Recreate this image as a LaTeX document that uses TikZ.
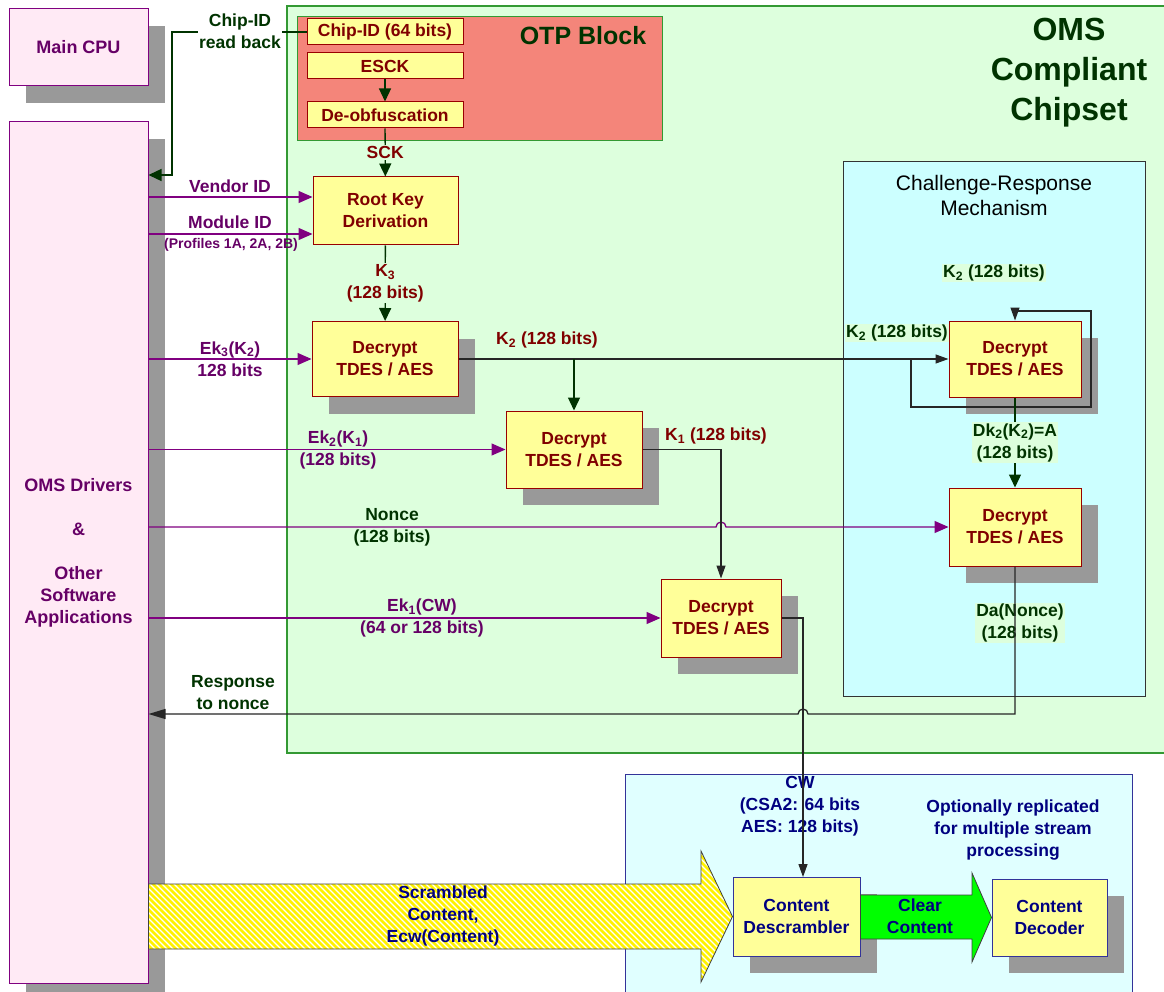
\documentclass[tikz,border=0pt]{standalone}
\usepackage{fontspec}
\setmainfont{Liberation Sans}
\usetikzlibrary{arrows.meta,shadows}

\definecolor{cpupink}{HTML}{FFEAF5}
\definecolor{cpuline}{HTML}{800080}
\definecolor{cputext}{HTML}{660066}
\definecolor{chipgreen}{HTML}{DDFFDD}
\definecolor{chipline}{HTML}{339933}
\definecolor{otpred}{HTML}{F4857A}
\definecolor{keyyellow}{HTML}{FFFF99}
\definecolor{keyline}{HTML}{990000}
\definecolor{keytext}{HTML}{800000}
\definecolor{dkgreen}{HTML}{003300}
\definecolor{crcyan}{HTML}{CCFFFF}
\definecolor{cwcyan}{HTML}{E0FFFF}
\definecolor{navy}{HTML}{000080}
\definecolor{navyline}{HTML}{333399}
\definecolor{shadowgray}{HTML}{999999}
\definecolor{clrgreen}{HTML}{00FF00}

\tikzset{
  txt/.style={font=\bfseries\fontsize{17.5}{22}\selectfont, align=center, inner sep=1pt},
  boxshadow/.style={general shadow={fill=shadowgray, shadow xshift=17pt, shadow yshift=-17pt}},
  cpubox/.style={txt, draw=cpuline, fill=cpupink, text=cputext, line width=1pt},
  keybox/.style={txt, draw=keyline, fill=keyyellow, text=keytext, line width=1pt, inner sep=0pt},
  otpbox/.style={keybox, minimum width=156pt, minimum height=26pt},
  decbox/.style={keybox, boxshadow, minimum height=76pt},
  cwbox/.style={txt, draw=navyline, fill=keyyellow, text=navy, line width=1pt, boxshadow, minimum height=78pt},
  purp/.style={draw=cpuline, line width=1.3pt, -{Triangle[length=14pt,width=12pt]}},
  grn/.style={draw=dkgreen, line width=1.3pt, -{Triangle[length=13pt,width=12pt]}},
  blk/.style={draw=black!85, line width=1.3pt, -{Triangle[length=13pt,width=9pt]}}
}

\begin{document}
\begin{tikzpicture}[x=1pt, y=-1pt]
  \useasboundingbox (0,0) rectangle (1164,992);
  \clip (0,0) rectangle (1164,992);
  \fill[white] (0,0) rectangle (1164,992);

  \draw[chipline, fill=chipgreen, line width=1.2pt] (287,6) rectangle (1200,753);
  \draw[chipline, fill=otpred, line width=1pt] (297,17) rectangle (662,141);
  \draw[black!80, fill=crcyan, line width=1pt] (843,162) rectangle (1145,696);
  \draw[navyline, fill=cwcyan, line width=1pt] (625,774) rectangle (1132,1010);

  \node[txt, text=dkgreen, font=\bfseries\fontsize{25}{30}\selectfont] (otptitle) at (583,36) {OTP Block};
  \node[txt, text=dkgreen, font=\bfseries\fontsize{32}{40}\selectfont] (omstitle) at (1069,73) {OMS\\Compliant\\Chipset};
  \node[txt, font=\fontsize{21}{25}\selectfont] (crtitle) at (994,195) {Challenge-Response\\Mechanism};

  \node[cpubox, boxshadow, minimum width=139pt, minimum height=77pt, font=\bfseries\fontsize{18}{22}\selectfont] (cpu) at (78.5,47.5) {Main CPU};
  \node[cpubox, boxshadow, minimum width=139pt, minimum height=861pt, font=\bfseries\fontsize{18}{22}\selectfont] (drv) at (78.5,552.5)
    {OMS Drivers\\[22pt]\&\\[22pt]Other\\Software\\Applications};

  \node[otpbox] (chipid) at (385,32) {Chip-ID (64 bits)};
  \node[otpbox] (esck) at (385,66) {ESCK};
  \node[otpbox] (deobf) at (385,115) {De-obfuscation};
  \node[keybox, minimum width=145pt, minimum height=68pt] (rkd) at (385.5,211) {Root Key\\Derivation};

  \node[decbox, minimum width=146pt, minimum height=75pt] (dec1) at (385,359) {Decrypt\\TDES / AES};
  \node[decbox, minimum width=136pt, minimum height=77pt] (dec2) at (574,449.5) {Decrypt\\TDES / AES};
  \node[decbox, minimum width=120pt, minimum height=78pt] (dec3) at (721,618) {Decrypt\\TDES / AES};
  \node[decbox, minimum width=132pt] (cr1) at (1015,359) {Decrypt\\TDES / AES};
  \node[decbox, minimum width=132pt, minimum height=78pt] (cr2) at (1015,527) {Decrypt\\TDES / AES};

  \node[cwbox, minimum width=127pt, minimum height=79pt] (desc) at (796.5,916.5) {Content\\Descrambler};
  \node[cwbox, minimum width=115pt, minimum height=77pt] (dcod) at (1049.5,917.5) {Content\\Decoder};

  \node[txt, text=cputext] (lvid) at (230,186) {Vendor ID};
  \node[txt, text=cputext] (lmid) at (230,222) {Module ID};
  \node[txt, text=cputext, font=\bfseries\fontsize{14}{16}\selectfont] (lprof) at (231,245) {(Profiles 1A, 2A, 2B)};
  \node[txt, text=cputext] (lek3) at (230,359) {Ek\textsubscript{3}(K\textsubscript{2})\\128 bits};
  \node[txt, text=cputext] (lek2) at (338,450) {Ek\textsubscript{2}(K\textsubscript{1})\\(128 bits)};
  \node[txt, text=dkgreen] (lnonce) at (392,527) {Nonce\\(128 bits)};
  \node[txt, text=cputext] (lek1) at (422,618) {Ek\textsubscript{1}(CW)\\(64 or 128 bits)};
  \node[txt, text=dkgreen] (lresp) at (233,693) {Response\\to nonce};
  \node[txt, text=keytext] (lk2) at (547,340) {K\textsubscript{2} (128 bits)};
  \node[txt, text=keytext] (lk1) at (716,436) {K\textsubscript{1} (128 bits)};
  \node[txt, text=dkgreen, fill=chipgreen] (lk2top) at (994,273) {K\textsubscript{2} (128 bits)};
  \node[txt, text=dkgreen, fill=chipgreen] (lk2in) at (897,333) {K\textsubscript{2} (128 bits)};
  \node[txt, text=dkgreen, fill=chipgreen] (lda) at (1020,623) {Da(Nonce)\\(128 bits)};
  \node[txt, text=navy] (lcw) at (800,806) {CW\\(CSA2: 64 bits\\AES: 128 bits)};
  \node[txt, text=navy] (lopt) at (1013,830) {Optionally replicated\\for multiple stream\\processing};

  % chip-id read back
  \draw[grn] (chipid.west) -- (172,32) -- (172,175) -- (drv.east |- 0,175);
  \node[txt, text=dkgreen, fill=white] (lchip) at (240,31.5) {Chip-ID\\read back};

  \draw[grn] (esck) -- (deobf);
  \draw[grn] (deobf) -- node[txt, fill=chipgreen, text=keytext] (lsck) {SCK} (rkd);
  \draw[grn] (rkd) -- node[txt, fill=chipgreen, text=keytext] (lk3) {K\textsubscript{3}\\(128 bits)} (dec1);

  \path
  (drv.east |- 0,197) edge[purp] (rkd.west |- 0,197)
  (drv.east |- 0,234) edge[purp] (rkd.west |- 0,234)
  (drv.east |- dec1.west) edge[purp] (dec1.west)
  (drv.east |- dec2.west) edge[purp] (dec2.west)
  (drv.east |- dec3.west) edge[purp] (dec3.west)
  ;
  \draw[purp] (drv.east |- cr2.west) -- (716,527) arc[start angle=180, end angle=360, radius=5] -- (cr2.west);

  \draw[blk] (dec1.east) -- (cr1.west);
  \draw[grn] (dec2.north |- dec1.east) -- (dec2.north);
  \draw[blk] (911,359) -- (911,407) -- (1091,407) -- (1091,311) -- (cr1.north |- 0,311) -- (cr1.north);
  \draw[grn] (cr1) -- node[txt, fill=chipgreen, text=dkgreen] (ldk) {Dk\textsubscript{2}(K\textsubscript{2})=A\\(128 bits)} (cr2);
  \draw[blk] (dec2.east) -| (dec3.north);
  \draw[blk] (dec3.east) -- (803,618) -- (803,877);
  \draw[blk, -{Triangle[length=17pt,width=10pt]}] (cr2.south) -- (1015,714) -- (808,714) arc[start angle=0, end angle=-180, radius=5] -- (drv.east |- 0,714);

  % scrambled content
  \begin{scope}
    \clip (drv.east |- 0,884) -- (701,884) -- (701,851) -- (desc.west) -- (701,982) -- (701,949) -- (drv.east |- 0,949) -- cycle;
    \fill[white] (140,840) rectangle (740,990);
    \foreach \s in {0,6,...,744}
      \draw[yellow, line width=2.6pt] (\s,845) -- (\s+145,990);
  \end{scope}
  \draw[black!75, line width=0.8pt] (drv.east |- 0,884) -- (701,884) -- (701,851) -- (desc.west) -- (701,982) -- (701,949) -- (drv.east |- 0,949) -- cycle;
  \node[txt, text=navy] (lscr) at (443,916) {Scrambled\\Content,\\Ecw(Content)};

  \draw[black!75, line width=0.8pt, fill=clrgreen] (desc.east |- 0,895) -- (972,895) -- (972,873) -- (dcod.west) -- (972,962) -- (972,939) -- (desc.east |- 0,939) -- cycle;
  \node[txt, text=navy] (lclr) at (920,916) {Clear\\Content};
\end{tikzpicture}
\end{document}
